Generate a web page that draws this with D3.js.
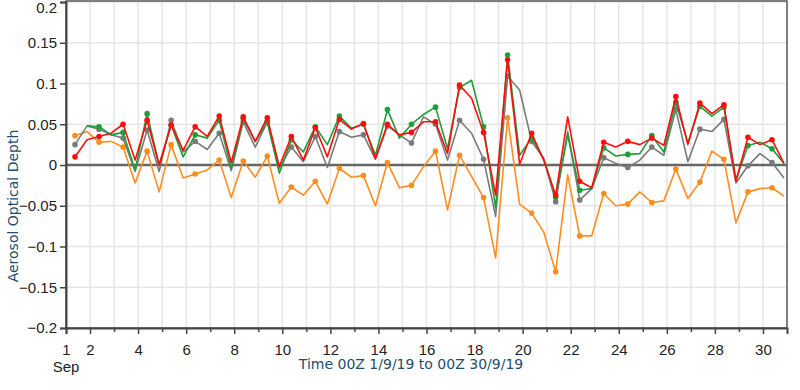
<!DOCTYPE html>
<html>
<head>
<meta charset="utf-8">
<script src="https://cdn.jsdelivr.net/npm/d3@7"></script>
<style>
  body { margin: 0; background: #fff; }
  .tick text, .monthLabel { font-family: "Liberation Sans", Arial, sans-serif; font-size: 15px; fill: #222; }
  .axisTitle { font-family: "DejaVu Sans", Verdana, sans-serif; font-size: 14px; fill: #1d4e6b; }
</style>
</head>
<body>
<svg id="chart" width="800" height="390"></svg>
<script>

// sample times, days of September (12-hourly, starting 09Z on the 1st)
const times = d3.range(60).map((k) => 1.375 + k * 0.5)

const redSeries = [
  0.010, 0.031, 0.035, 0.039, 0.050, 0.006, 0.055, 0.000, 0.049, 0.018,
  0.047, 0.035, 0.060, 0.003, 0.059, 0.029, 0.058, -0.002, 0.035, 0.006,
  0.046, 0.010, 0.056, 0.044, 0.051, 0.008, 0.050, 0.037, 0.040, 0.053,
  0.053, 0.014, 0.098, 0.082, 0.040, -0.037, 0.129, 0.001, 0.039, 0.006,
  -0.037, 0.059, -0.020, -0.028, 0.028, 0.022, 0.029, 0.025, 0.033, 0.024,
  0.084, 0.025, 0.076, 0.063, 0.074, -0.020, 0.034, 0.025, 0.031, 0.002
]

const greenSeries = [
  null, 0.048, 0.047, 0.037, 0.040, -0.006, 0.063, 0.000, 0.049, 0.010,
  0.037, 0.033, 0.055, -0.004, 0.057, 0.029, 0.053, -0.010, 0.031, 0.016,
  0.047, 0.025, 0.060, 0.045, 0.050, 0.012, 0.068, 0.033, 0.050, 0.062,
  0.071, 0.020, 0.095, 0.104, 0.047, -0.053, 0.135, 0.012, 0.033, 0.008,
  -0.040, 0.037, -0.031, -0.029, 0.021, 0.011, 0.013, 0.014, 0.036, 0.016,
  0.077, 0.027, 0.072, 0.060, 0.071, -0.018, 0.024, 0.028, 0.020, 0.002
]

const greySeries = [
  0.025, 0.048, 0.044, 0.037, 0.033, -0.008, 0.043, -0.008, 0.055, 0.016,
  0.029, 0.019, 0.039, -0.007, 0.053, 0.022, 0.053, -0.004, 0.022, 0.004,
  0.035, -0.003, 0.041, 0.034, 0.037, 0.007, 0.048, 0.037, 0.027, 0.059,
  0.050, 0.006, 0.055, 0.039, 0.007, -0.063, 0.109, 0.092, 0.029, 0.008,
  -0.045, 0.041, -0.043, -0.029, 0.009, 0.002, -0.003, 0.006, 0.022, 0.012,
  0.068, 0.004, 0.044, 0.041, 0.056, -0.022, -0.001, 0.014, 0.003, -0.016
]

const orangeSeries = [
  0.036, 0.041, 0.028, 0.029, 0.022, -0.022, 0.017, -0.033, 0.025, -0.016,
  -0.011, -0.006, 0.006, -0.040, 0.005, -0.015, 0.011, -0.047, -0.027, -0.037,
  -0.020, -0.048, -0.004, -0.015, -0.013, -0.050, 0.003, -0.028, -0.025, -0.002,
  0.017, -0.055, 0.012, -0.014, -0.040, -0.114, 0.058, -0.048, -0.059, -0.082,
  -0.131, -0.012, -0.087, -0.087, -0.035, -0.050, -0.048, -0.033, -0.046, -0.044,
  -0.005, -0.041, -0.021, 0.017, 0.007, -0.071, -0.033, -0.029, -0.028, -0.038
]

const yTicks = [-0.2, -0.15, -0.1, -0.05, 0, 0.05, 0.1, 0.15, 0.2]
const xMajorTicks = [1, 2, 4, 6, 8, 10, 12, 14, 16, 18, 20, 22, 24, 26, 28, 30]
const xMinorTicks = [3, 5, 7, 9, 11, 13, 15, 17, 19, 21, 23, 25, 27, 29]
const monthLabel = "Sep"
const xTitle = "Time 00Z 1/9/19 to 00Z 30/9/19"
const yTitle = "Aerosol Optical Depth"

// drawn bottom to top
const seriesList = [
  { values: orangeSeries, colour: "#ff8d1e" },
  { values: greySeries, colour: "#7a7a7a" },
  { values: greenSeries, colour: "#1f9e3c" },
  { values: redSeries, colour: "#ff0d0d" }
]

const plotLeft = 66
const plotRight = 787
const plotTop = 2
const plotBottom = 328

const svg = d3.select("#chart")

const x = d3.scaleLinear()
.domain([1, 31])
.range([plotLeft, plotRight])

const y = d3.scaleLinear()
.domain([-0.2, 0.2])
.range([plotBottom, plotTop])

// grid
const grid = svg.append("g")

grid.selectAll(".vgrid")
.data(d3.range(2, 31))
.enter()
.append("line")
.attr("x1", (d) => x(d))
.attr("x2", (d) => x(d))
.attr("y1", plotTop)
.attr("y2", plotBottom)
.attr("stroke", "#e6e6e6")
.attr("stroke-width", 1.5)

grid.selectAll(".hgrid")
.data(yTicks.filter((d) => d != 0))
.enter()
.append("line")
.attr("x1", plotLeft)
.attr("x2", plotRight)
.attr("y1", (d) => y(d))
.attr("y2", (d) => y(d))
.attr("stroke", "#e6e6e6")
.attr("stroke-width", 1.5)

// frame
svg.append("rect")
.attr("x", plotLeft)
.attr("y", plotTop - 1)
.attr("width", plotRight - plotLeft)
.attr("height", plotBottom - plotTop + 1)
.attr("fill", "none")
.attr("stroke", "#555")
.attr("stroke-width", 1.5)

// zero line
svg.append("line")
.attr("x1", plotLeft)
.attr("x2", plotRight)
.attr("y1", y(0))
.attr("y2", y(0))
.attr("stroke", "#666")
.attr("stroke-width", 2.5)

// axes
const yAxis = svg.append("g")
.attr("transform", `translate(${plotLeft},0)`)
.call(d3.axisLeft(y).tickValues(yTicks).tickFormat(d3.format("")).tickSize(6).tickPadding(3))

yAxis.select(".domain").attr("stroke", "#444").attr("stroke-width", 2)
yAxis.selectAll(".tick line").attr("stroke", "#444").attr("stroke-width", 1.5)

// top label sits a little lower so it is not clipped
yAxis.selectAll(".tick text")
.filter((d) => d == 0.2)
.attr("dy", "0.75em")
.attr("y", -1)

const xAxis = svg.append("g")
.attr("transform", `translate(0,${plotBottom})`)
.call(d3.axisBottom(x).tickValues(xMajorTicks).tickFormat(d3.format("d")).tickSize(6).tickPadding(10))

xAxis.select(".domain").attr("stroke", "#444").attr("stroke-width", 2)
xAxis.selectAll(".tick line").attr("stroke", "#444").attr("stroke-width", 1.5)

svg.append("g")
.attr("transform", `translate(0,${plotBottom})`)
.call(d3.axisBottom(x).tickValues(xMinorTicks).tickFormat("").tickSize(4))
.call((g) => g.select(".domain").remove())
.selectAll(".tick line")
.attr("stroke", "#444")
.attr("stroke-width", 1.5)

svg.append("text")
.attr("class", "monthLabel")
.attr("x", x(1))
.attr("y", 372)
.attr("text-anchor", "middle")
.text(monthLabel)

// titles
svg.append("text")
.attr("class", "axisTitle")
.attr("x", 411)
.attr("y", 369)
.attr("text-anchor", "middle")
.text(xTitle)

svg.append("text")
.attr("class", "axisTitle")
.attr("transform", "translate(18,206) rotate(-90)")
.attr("text-anchor", "middle")
.text(yTitle)

// series
const line = d3.line()
.defined((d) => d[1] != null)
.x((d) => x(d[0]))
.y((d) => y(d[1]))

for (const series of seriesList) {

  const pts = times.map((t, i) => [t, series.values[i]])

  svg.append("path")
  .datum(pts)
  .attr("d", line)
  .attr("fill", "none")
  .attr("stroke", series.colour)
  .attr("stroke-width", 1.6)
  .attr("stroke-linejoin", "round")

  // markers once a day
  svg.append("g")
  .selectAll("circle")
  .data(pts.filter((d, i) => i % 2 == 0 && d[1] != null))
  .enter()
  .append("circle")
  .attr("cx", (d) => x(d[0]))
  .attr("cy", (d) => y(d[1]))
  .attr("r", 2.8)
  .attr("fill", series.colour)

}

</script>
</body>
</html>
